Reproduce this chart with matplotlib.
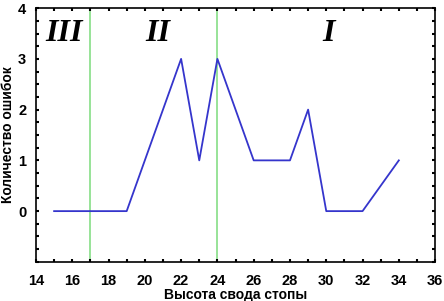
import matplotlib
matplotlib.use('Agg')
import matplotlib.pyplot as plt
from matplotlib.ticker import MultipleLocator

# высота свода стопы и количество ошибок
arch_height = [15, 17, 19, 22, 23, 24, 26, 28, 29, 30, 32, 34]
errors = [0, 0, 0, 3, 1, 3, 1, 1, 2, 0, 0, 1]

zone_bounds = [17, 24]
zone_labels = ['III', 'II', 'I']
zone_label_x = [15.55, 20.7, 30.1]

plt.rcParams['font.family'] = ['Liberation Sans', 'DejaVu Sans']

fig = plt.figure(figsize=(4.44, 3.01), dpi=100)
ax = fig.add_axes([0.081, 0.130, 0.899, 0.843])

for b in zone_bounds:
    ax.axvline(b, color='#90e090', lw=1.3, zorder=1)

ax.plot(arch_height, errors, color='#3535cc', lw=1.3, zorder=3)

for lbl, xx in zip(zone_labels, zone_label_x):
    ax.text(xx, 3.5, lbl, fontsize=23, fontweight='bold', fontstyle='italic',
            family='Liberation Serif', ha='center', va='center')

ax.set_xlim(14, 36)
ax.set_ylim(-1, 4)
ax.xaxis.set_major_locator(MultipleLocator(2))
ax.xaxis.set_minor_locator(MultipleLocator(1))
ax.set_yticks([0, 1, 2, 3, 4])
ax.set_yticks([-1, -0.75, -0.5, -0.25, 0.25, 0.5, 0.75, 1.25, 1.5, 1.75,
               2.25, 2.5, 2.75, 3.25, 3.5, 3.75], minor=True)
ax.tick_params(which='both', direction='in', top=True, right=True,
               length=2, width=1.5, labelsize=10.5)
ax.tick_params(axis='x', pad=9)
ax.tick_params(axis='y', pad=7)
for lab in ax.get_xticklabels() + ax.get_yticklabels():
    lab.set_fontweight('bold')
for s in ax.spines.values():
    s.set_linewidth(1.2)

ax.set_xlabel('Высота свода стопы', fontsize=10, fontweight='bold', labelpad=0)
ax.set_ylabel('Количество ошибок', fontsize=10, fontweight='bold', labelpad=2)

fig.savefig('out.png', dpi=100)
